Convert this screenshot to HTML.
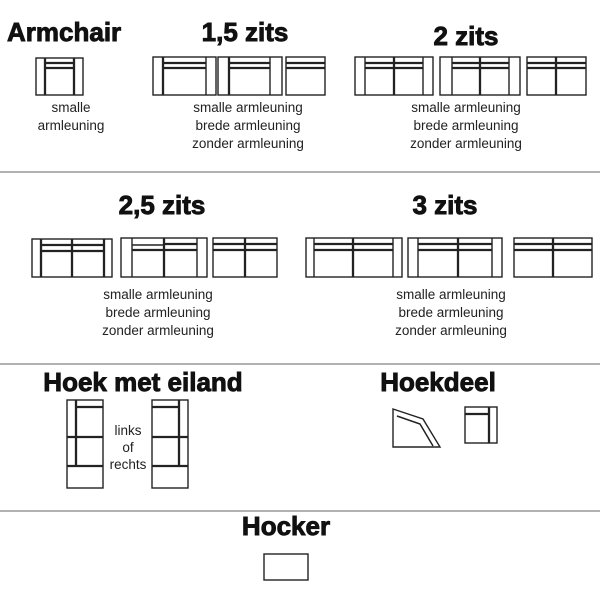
<!DOCTYPE html>
<html><head><meta charset="utf-8"><style>
html,body{margin:0;padding:0;background:#fff;width:600px;height:600px;overflow:hidden}
svg{display:block}
.h{font-family:"Liberation Sans",sans-serif;font-weight:bold;font-size:26px;fill:#111;stroke:#111;stroke-width:0.9}
.t{font-family:"Liberation Sans",sans-serif;font-size:13.5px;fill:#222}
.s rect,.s line,.s polygon{fill:none;stroke:#222;stroke-width:1.4}
.b{stroke-width:2.3!important}
</style></head><body>
<svg width="600" height="600" viewBox="0 0 600 600">
<text class="h" x="7" y="41">Armchair</text>
<text class="h" x="245" y="41" text-anchor="middle">1,5 zits</text>
<text class="h" x="466" y="45" text-anchor="middle">2 zits</text>
<text class="h" x="162" y="214" text-anchor="middle">2,5 zits</text>
<text class="h" x="445" y="214" text-anchor="middle">3 zits</text>
<text class="h" x="143" y="391" text-anchor="middle">Hoek met eiland</text>
<text class="h" x="438" y="391" text-anchor="middle">Hoekdeel</text>
<text class="h" x="286" y="535" text-anchor="middle">Hocker</text>

<g class="t" text-anchor="middle">
<text x="71" y="112">smalle</text><text x="71" y="130">armleuning</text>
<text x="248" y="112">smalle armleuning</text><text x="248" y="130">brede armleuning</text><text x="248" y="148">zonder armleuning</text>
<text x="466" y="112">smalle armleuning</text><text x="466" y="130">brede armleuning</text><text x="466" y="148">zonder armleuning</text>
<text x="158" y="299">smalle armleuning</text><text x="158" y="317">brede armleuning</text><text x="158" y="335">zonder armleuning</text>
<text x="451" y="299">smalle armleuning</text><text x="451" y="317">brede armleuning</text><text x="451" y="335">zonder armleuning</text>
<text x="128" y="435">links</text><text x="128" y="452">of</text><text x="128" y="469">rechts</text>
</g>

<g stroke="#666" stroke-width="1">
<line x1="0" y1="172" x2="600" y2="172"/><line x1="0" y1="364" x2="600" y2="364"/><line x1="0" y1="511" x2="600" y2="511"/>
</g>

<g class="s">
<rect x="36" y="58" width="47" height="37"/><line class="b" x1="45" y1="58" x2="45" y2="95"/><line class="b" x1="74" y1="58" x2="74" y2="95"/>
<line class="b" x1="45" y1="63" x2="74" y2="63"/><line class="b" x1="45" y1="68" x2="74" y2="68"/>
<rect x="153" y="57" width="63" height="38"/><line class="b" x1="163" y1="57" x2="163" y2="95"/><line x1="206" y1="57" x2="206" y2="95"/>
<line class="b" x1="163" y1="63" x2="206" y2="63"/><line class="b" x1="163" y1="68" x2="206" y2="68"/>
<rect x="218" y="57" width="64" height="38"/><line class="b" x1="229" y1="57" x2="229" y2="95"/><line x1="270" y1="57" x2="270" y2="95"/>
<line class="b" x1="229" y1="63" x2="270" y2="63"/><line class="b" x1="229" y1="68" x2="270" y2="68"/>
<rect x="286" y="57" width="39" height="38"/><line class="b" x1="286" y1="63" x2="325" y2="63"/><line class="b" x1="286" y1="68" x2="325" y2="68"/>
<rect x="355" y="57" width="78" height="38"/><line x1="365" y1="57" x2="365" y2="95"/><line x1="423" y1="57" x2="423" y2="95"/><line class="b" x1="394" y1="57" x2="394" y2="95"/>
<line class="b" x1="365" y1="63" x2="423" y2="63"/><line class="b" x1="365" y1="68" x2="423" y2="68"/>
<rect x="440" y="57" width="80" height="38"/><line x1="452" y1="57" x2="452" y2="95"/><line x1="509" y1="57" x2="509" y2="95"/><line class="b" x1="480" y1="57" x2="480" y2="95"/>
<line class="b" x1="452" y1="63" x2="509" y2="63"/><line class="b" x1="452" y1="68" x2="509" y2="68"/>
<rect x="527" y="57" width="59" height="38"/><line class="b" x1="556" y1="57" x2="556" y2="95"/>
<line class="b" x1="527" y1="63" x2="586" y2="63"/><line class="b" x1="527" y1="68" x2="586" y2="68"/>
<rect x="32" y="239" width="80" height="38"/><line class="b" x1="41" y1="239" x2="41" y2="277"/><line class="b" x1="104" y1="239" x2="104" y2="277"/><line class="b" x1="72" y1="239" x2="72" y2="277"/>
<line class="b" x1="41" y1="245" x2="104" y2="245"/><line class="b" x1="41" y1="251" x2="104" y2="251"/>
<rect x="121" y="238" width="86" height="39"/><line x1="132" y1="238" x2="132" y2="277"/><line x1="197" y1="238" x2="197" y2="277"/><line class="b" x1="164" y1="238" x2="164" y2="277"/>
<line class="b" x1="164" y1="244" x2="197" y2="244"/><line class="b" x1="132" y1="250" x2="197" y2="250"/><line x1="132" y1="245" x2="164" y2="245"/>
<rect x="213" y="238" width="64" height="39"/><line class="b" x1="245" y1="238" x2="245" y2="277"/>
<line class="b" x1="213" y1="244" x2="277" y2="244"/><line class="b" x1="213" y1="250" x2="277" y2="250"/>
<rect x="306" y="238" width="96" height="39"/><line x1="314" y1="238" x2="314" y2="277"/><line x1="393" y1="238" x2="393" y2="277"/><line class="b" x1="353" y1="238" x2="353" y2="277"/>
<line class="b" x1="314" y1="244" x2="393" y2="244"/><line class="b" x1="314" y1="250" x2="393" y2="250"/>
<rect x="408" y="238" width="94" height="39"/><line x1="418" y1="238" x2="418" y2="277"/><line x1="492" y1="238" x2="492" y2="277"/><line class="b" x1="458" y1="238" x2="458" y2="277"/>
<line class="b" x1="418" y1="244" x2="492" y2="244"/><line class="b" x1="418" y1="250" x2="492" y2="250"/>
<rect x="514" y="238" width="78" height="39"/><line class="b" x1="553" y1="238" x2="553" y2="277"/>
<line class="b" x1="514" y1="244" x2="592" y2="244"/><line class="b" x1="514" y1="250" x2="592" y2="250"/>
<rect x="67" y="400" width="36" height="88"/><line class="b" x1="76" y1="400" x2="76" y2="466"/><line class="b" x1="76" y1="407" x2="103" y2="407"/>
<line class="b" x1="67" y1="437" x2="103" y2="437"/><line class="b" x1="67" y1="466" x2="103" y2="466"/>
<rect x="152" y="400" width="36" height="88"/><line class="b" x1="179" y1="400" x2="179" y2="466"/><line class="b" x1="152" y1="407" x2="179" y2="407"/>
<line class="b" x1="152" y1="437" x2="188" y2="437"/><line class="b" x1="152" y1="466" x2="188" y2="466"/>
<polygon points="393,409 423,419 440,447 393,447"/><polyline points="397,416 420,424 433,446" fill="none" stroke="#222" stroke-width="1.5"/>
<rect x="465" y="407" width="32" height="36"/><line class="b" x1="465" y1="414" x2="489" y2="414"/><line class="b" x1="489" y1="407" x2="489" y2="443"/>
<rect x="264" y="554" width="44" height="26"/>
</g>
</svg>
</body></html>
